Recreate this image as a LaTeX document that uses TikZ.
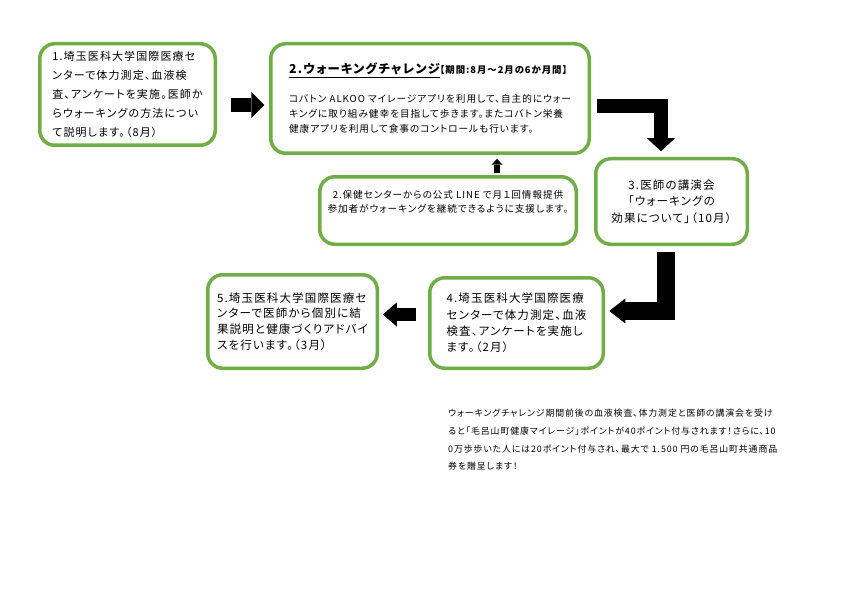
\documentclass[tikz,border=0pt]{standalone}
\usepackage{fontspec}
\setmainfont{Noto Sans CJK JP}[RawFeature=+palt, LetterSpace=10]
\usetikzlibrary{arrows.meta,positioning,calc}
\definecolor{cardgreen}{RGB}{112,173,71}

\begin{document}
\begin{tikzpicture}[
x=1pt, y=-1pt,
card/.style={rectangle, draw=cardgreen, line width=3.5pt, rounded corners=15pt, fill=white, inner sep=0pt},
blockarrow/.style={draw=black, line join=miter},
]
\useasboundingbox (0,0) rectangle (842,596);

\node[card, minimum width=175.5pt, minimum height=101.5pt, align=left, font=\fontsize{11}{19}\selectfont] (exam1) at (127.5,94.5)
{1.埼玉医科大学国際医療セ\\ンターで体力測定、血液検\\査、アンケートを実施。医師か\\らウォーキングの方法につい\\て説明します。（8月）};

\node[card, minimum width=318.5pt, minimum height=109.5pt, align=left, font=\fontsize{9.65}{15}\selectfont] (challenge) at (430,98.5)
{{\fontsize{12.3}{15}\selectfont\bfseries\underline{2.ウォーキングチャレンジ}}{\fontsize{9.4}{15}\selectfont\bfseries【期間:8月～2月の6か月間】}\\[14pt]
コバトン ALKOO マイレージアプリを利用して、自主的にウォー\\キングに取り組み健幸を目指して歩きます。またコバトン栄養\\健康アプリを利用して食事のコントロールも行います。};

\node[card, minimum width=256.5pt, minimum height=67.5pt] (lineinfo) at (448,210.5) {};
\node[align=center, font=\fontsize{9.6}{14.5}\selectfont] (lineinfotext) at ([yshift=8.5pt]lineinfo.center)
{2.保健センターからの公式 LINE で月１回情報提供\\参加者がウォーキングを継続できるように支援します。};

\node[card, minimum width=151.5pt, minimum height=85.5pt, align=center, font=\fontsize{11.5}{16.5}\selectfont] (lecture) at (671.5,201.5)
{3.医師の講演会\\「ウォーキングの\\効果について」（10月）};

\node[card, minimum width=173.5pt, minimum height=90.5pt, align=left, font=\fontsize{11.5}{16.3}\selectfont] (exam2) at (516.5,323)
{4.埼玉医科大学国際医療\\センターで体力測定、血液\\検査、アンケートを実施し\\ます。（2月）};

\node[card, minimum width=169.5pt, minimum height=93.5pt, align=left, font=\fontsize{11.5}{15.7}\selectfont] (advice) at (292.5,321.5)
{5.埼玉医科大学国際医療セ\\ンターで医師から個別に結\\果説明と健康づくりアドバイ\\スを行います。（3月）};

\node[anchor=north west, inner sep=0pt, align=left, font=\fontsize{8.9}{17.7}\selectfont] (bonus) at (448,409)
{ウォーキングチャレンジ期間前後の血液検査、体力測定と医師の講演会を受け\\ると「毛呂山町健康マイレージ」ポイントが40ポイント付与されます！さらに、10\\0万歩歩いた人には20ポイント付与され、最大で 1.500 円の毛呂山町共通商品\\券を贈呈します！};

% block arrows
\draw[blockarrow, line width=14pt, -{Triangle[length=13pt,width=26pt,line width=0pt]}, shorten <=13.75pt, shorten >=4.75pt]
  ([yshift=-10.5pt]exam1.east) -- ([yshift=-10.5pt]exam1.east -| challenge.west);
\draw[blockarrow, line width=14pt, -{Triangle[length=13pt,width=28pt,line width=0pt]}, shorten <=5.75pt, shorten >=5.75pt]
  ([yshift=-7.5pt]challenge.east) -| ([xshift=-10.5pt]lecture.north);
\draw[blockarrow, line width=18pt, -{Triangle[length=16pt,width=25pt,line width=0pt]}, shorten <=5.75pt, shorten >=4.25pt]
  ([xshift=-5.5pt]lecture.south) |- ([yshift=12pt]exam2.east);
\draw[blockarrow, line width=13pt, -{Triangle[length=14pt,width=24pt,line width=0pt]}, shorten <=11.75pt, shorten >=3.75pt]
  ([yshift=8.5pt]exam2.west) -- ([yshift=8.5pt]exam2.west -| advice.east);
\draw[blockarrow, line width=6pt, -{Triangle[length=6pt,width=11pt,line width=0pt]}, shorten <=1.75pt, shorten >=3.75pt]
  ([xshift=49pt]lineinfo.north) -- ([xshift=49pt]lineinfo.north |- challenge.south);
\end{tikzpicture}
\end{document}
